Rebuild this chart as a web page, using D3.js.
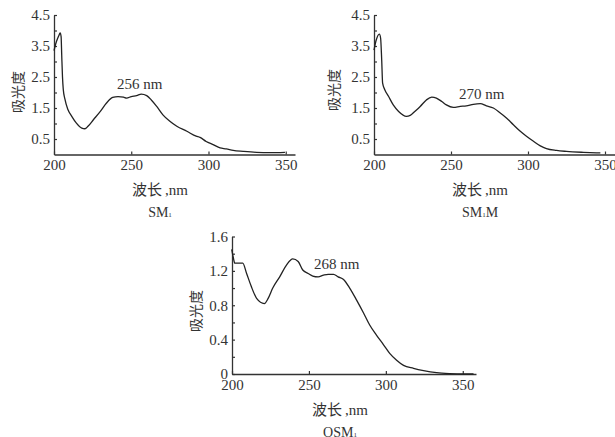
<!DOCTYPE html>
<html>
<head>
<meta charset="utf-8">
<script src="https://cdn.jsdelivr.net/npm/d3@7"></script>
<style>
  body { margin: 0; background: #fff; }
  svg { display: block; }
  .tick text { font-family: "Liberation Serif", "DejaVu Serif", serif; font-size: 15px; fill: #333; }
  .lbl { font-family: "Liberation Serif", "Noto Sans CJK SC", serif; fill: #333; }
</style>
</head>
<body>
<svg id="chart" width="615" height="437"></svg>
<script>
// SM1 spectrum
const sm1Wl  = [200, 201, 202, 203, 204, 204.6, 205, 205.5, 206, 207, 209, 211.5, 214.5, 218, 220, 222, 225.5, 230, 234, 238, 241.5, 245, 247, 250, 253.5, 256.5, 260, 263, 266.5, 270.5, 275, 279.5, 286, 292, 294.5, 298.5, 303, 307.5, 311.5, 316, 322.5, 331, 340, 349.5];
const sm1Abs = [3.35, 3.55, 3.7, 3.82, 3.92, 3.8, 3.2, 2.5, 2.1, 1.8, 1.45, 1.23, 1.01, 0.85, 0.83, 0.91, 1.12, 1.39, 1.66, 1.84, 1.87, 1.85, 1.82, 1.87, 1.9, 1.95, 1.9, 1.76, 1.55, 1.28, 1.07, 0.91, 0.75, 0.59, 0.55, 0.42, 0.32, 0.21, 0.18, 0.13, 0.10, 0.07, 0.06, 0.07];

// SM1M spectrum
const sm1mWl  = [200, 201.5, 203.5, 204.3, 205, 205.6, 207, 209.5, 212.5, 216, 221, 223.5, 226.5, 230, 234, 237.5, 240.5, 244, 247, 251.5, 256, 260, 264.5, 269, 273, 277.5, 282, 286, 290.5, 295, 299, 303.5, 308, 312, 318.5, 325, 336, 347];
const sm1mAbs = [3.37, 3.7, 3.88, 3.75, 3.05, 2.3, 2.09, 1.87, 1.6, 1.39, 1.23, 1.26, 1.39, 1.55, 1.76, 1.85, 1.82, 1.71, 1.6, 1.52, 1.55, 1.57, 1.62, 1.64, 1.57, 1.5, 1.34, 1.18, 0.96, 0.75, 0.59, 0.43, 0.28, 0.19, 0.13, 0.10, 0.07, 0.05];

// OSM1 spectrum
const osm1Wl  = [199.8, 200.8, 201.8, 204, 207, 209.5, 212.5, 216, 221, 223.5, 226.5, 231, 235.5, 239.5, 243, 246, 249.5, 252.5, 256, 259.5, 262.5, 266, 269, 272.5, 276.5, 281, 285.5, 289.5, 294, 298.5, 302.5, 307, 311.5, 318, 324.5, 333, 341.5, 350.5, 357];
const osm1Abs = [1.45, 1.36, 1.29, 1.29, 1.29, 1.17, 1.02, 0.88, 0.82, 0.88, 1.0, 1.13, 1.27, 1.34, 1.31, 1.21, 1.17, 1.14, 1.13, 1.15, 1.16, 1.16, 1.13, 1.1, 1.0, 0.86, 0.71, 0.57, 0.45, 0.34, 0.24, 0.16, 0.10, 0.066, 0.04, 0.016, 0.005, 0.0, 0.0];

const xTicks = [200, 250, 300, 350];
const yTicksA = [0.5, 1, 1.5, 2, 2.5, 3, 3.5, 4, 4.5];
const yLabelsA = [0.5, 1.5, 2.5, 3.5, 4.5];
const yTicksB = [0, 0.2, 0.4, 0.6, 0.8, 1.0, 1.2, 1.4, 1.6];
const yLabelsB = [0, 0.4, 0.8, 1.2, 1.6];

const svg = d3.select('#chart');

function panel(p) {
  const x = d3.scaleLinear().domain(p.xDomain).range([p.left, p.right]);
  const y = d3.scaleLinear().domain(p.yDomain).range([p.bottom, p.top]);
  const g = svg.append('g');

  // x axis, ticks pointing inward
  const xa = g.append('g')
    .attr('transform', `translate(0,${p.bottom})`)
    .call(d3.axisBottom(x).tickValues(xTicks).tickSize(-3).tickSizeOuter(0).tickPadding(5));
  // y axis
  const ya = g.append('g')
    .attr('transform', `translate(${p.left},0)`)
    .call(d3.axisLeft(y).tickValues(p.yTicks).tickSize(-3).tickSizeOuter(0).tickPadding(4)
      .tickFormat(d => p.yLabels.some(v => Math.abs(v - d) < 1e-9) ? d3.format(p.fmt)(d) : ''));
  [xa, ya].forEach(a => {
    a.select('.domain').attr('stroke', '#333').attr('stroke-width', 1.3);
    a.selectAll('.tick line').attr('stroke', '#333').attr('stroke-width', 1.2);
  });

  const line = d3.line().x(d => x(d[0])).y(d => y(d[1])).curve(d3.curveMonotoneX);
  g.append('path')
    .datum(p.wl.map((w, i) => [w, p.abs[i]]))
    .attr('fill', 'none')
    .attr('stroke', '#222')
    .attr('stroke-width', 1.3)
    .attr('d', line);

  // peak note
  g.append('text').attr('class', 'lbl')
    .attr('x', x(p.note[0])).attr('y', y(p.note[1]))
    .attr('text-anchor', 'middle').style('font-size', '15px')
    .text(p.noteText);

  // y title
  g.append('text').attr('class', 'lbl')
    .attr('transform', `translate(${p.yTitle[0]},${p.yTitle[1]}) rotate(-90)`)
    .attr('text-anchor', 'middle').attr('dominant-baseline', 'central')
    .style('font-size', '14px')
    .text('吸光度');

  // x title
  const xt = g.append('text').attr('class', 'lbl')
    .attr('x', p.xTitle[0]).attr('y', p.xTitle[1])
    .attr('text-anchor', 'middle').style('font-size', '15px');
  xt.append('tspan').text('波长');
  xt.append('tspan').attr('dx', 3).text(',nm');

  // sample name with subscript
  const t = g.append('text').attr('class', 'lbl')
    .attr('x', p.xTitle[0]).attr('y', p.xTitle[1] + p.nameGap)
    .attr('text-anchor', 'middle').style('font-size', '14px');
  t.append('tspan').text(p.name[0]);
  t.append('tspan').text(p.name[1]).style('font-size', '7px');
  if (p.name[2]) t.append('tspan').text(p.name[2]);
}

panel({
  left: 54, right: 295, top: 15, bottom: 154.5,
  xDomain: [200, 356], yDomain: [0, 4.5],
  yTicks: yTicksA, yLabels: yLabelsA, fmt: '.1f',
  wl: sm1Wl, abs: sm1Abs,
  note: [255.5, 2.1], noteText: '256 nm',
  yTitle: [18, 92], xTitle: [160, 195], nameGap: 22,
  name: ['SM', '1']
});

panel({
  left: 374, right: 615, top: 15, bottom: 154.5,
  xDomain: [200, 356.5], yDomain: [0, 4.5],
  yTicks: yTicksA, yLabels: yLabelsA, fmt: '.1f',
  wl: sm1mWl, abs: sm1mAbs,
  note: [270, 1.78], noteText: '270 nm',
  yTitle: [334, 90], xTitle: [480, 195], nameGap: 22,
  name: ['SM', '1', 'M']
});

panel({
  left: 232, right: 476, top: 236.5, bottom: 374,
  xDomain: [200, 358.6], yDomain: [0, 1.6],
  yTicks: yTicksB, yLabels: yLabelsB, fmt: '',
  wl: osm1Wl, abs: osm1Abs,
  note: [268, 1.22], noteText: '268 nm',
  yTitle: [196, 311], xTitle: [340, 415], nameGap: 22,
  name: ['OSM', '1']
});
</script>
</body>
</html>
